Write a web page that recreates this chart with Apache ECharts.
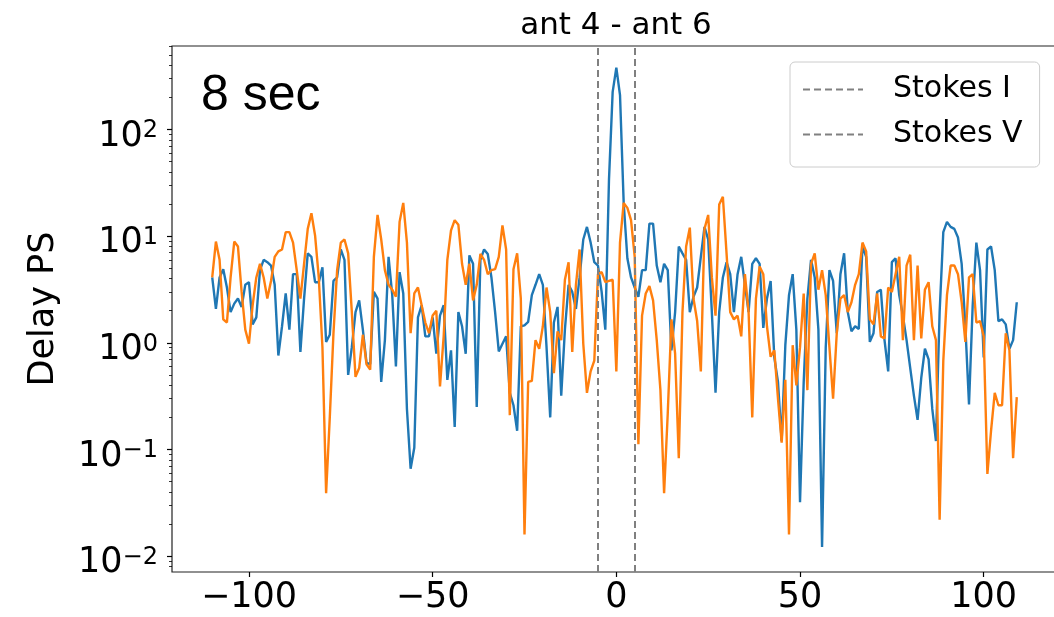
<!DOCTYPE html>
<html>
<head>
<meta charset="utf-8">
<script src="https://cdn.jsdelivr.net/npm/echarts@6/dist/echarts.min.js"></script>
<style>
html,body{margin:0;padding:0;background:#fff;}
#chart{width:1054px;height:617px;}
</style>
</head>
<body>
<div id="chart"></div>
<script>
// ---- data ----
const delays = [
 -110,-109,-108,-107,-106,-105,-104,-103,-102,-101,
 -100,-99,-98,-97,-96,-95,-94,-93,-92,-91,
 -90,-89,-88,-87,-86,-85,-84,-83,-82,-81,
 -80,-79,-78,-77,-76,-75,-74,-73,-72,-71,
 -70,-69,-68,-67,-66,-65,-64,-63,-62,-61,
 -60,-59,-58,-57,-56,-55,-54,-53,-52,-51,
 -50,-49,-48,-47,-46,-45,-44,-43,-42,-41,
 -40,-39,-38,-37,-36,-35,-34,-33,-32,-31,
 -30,-29,-28,-27,-26,-25,-24,-23,-22,-21,
 -20,-19,-18,-17,-16,-15,-14,-13,-12,-11,
 -10,-9,-8,-7,-6,-5,-4,-3,-2,-1,
 0,1,2,3,4,5,6,7,8,9,
 10,11,12,13,14,15,16,17,18,19,
 20,21,22,23,24,25,26,27,28,29,
 30,31,32,33,34,35,36,37,38,39,
 40,41,42,43,44,45,46,47,48,49,
 50,51,52,53,54,55,56,57,58,59,
 60,61,62,63,64,65,66,67,68,69,
 70,71,72,73,74,75,76,77,78,79,
 80,81,82,83,84,85,86,87,88,89,
 90,91,92,93,94,95,96,97,98,99,
 100,101,102,103,104,105,106,107,108,109
];

const blueValues = [
 4.1, 2.08, 4.1, 4.9, 3.3, 1.94, 2.33, 2.6, 2.17, 3.5,
 3.7, 1.49, 1.73, 4.8, 6.0, 5.7, 5.3, 3.5, 0.76, 1.43,
 2.9, 1.33, 4.4, 4.4, 0.82, 2.6, 6.9, 6.4, 3.7, 3.7,
 5.1, 1.02, 1.19, 3.8, 4.1, 7.5, 6.0, 0.5, 0.91, 1.94,
 2.5, 1.33, 0.65, 0.63, 3.0, 2.6, 0.43, 1.06, 6.4, 2.8,
 0.6, 4.6, 2.9, 0.24, 0.066, 0.104, 1.73, 2.25, 1.15, 1.15,
 1.73, 0.79, 1.8, 2.25, 0.45, 0.85, 0.163, 1.94, 1.43, 0.79,
 6.6, 5.5, 0.25, 6.0, 7.5, 6.8, 4.1, 1.94, 0.83, 0.98,
 1.15, 0.34, 0.26, 0.15, 1.43, 1.46, 1.57, 2.8, 3.5, 4.4,
 3.5, 0.91, 0.2, 1.55, 2.17, 0.32, 1.33, 3.5, 3.0, 2.08,
 4.1, 9.3, 12.2, 8.7, 5.7, 5.3, 3.0, 1.33, 34, 225,
 380, 210, 20.5, 6.2, 4.1, 3.3, 2.7, 4.8, 4.8, 13.1,
 13.1, 5.3, 3.7, 5.5, 4.8, 0.85, 1.94, 8.0, 6.9, 6.0,
 1.94, 2.7, 3.3, 6.4, 12.2, 9.3, 1.94, 0.34, 1.94, 4.1,
 5.7, 4.4, 1.94, 4.4, 6.4, 3.5, 1.94, 5.5, 6.2, 5.5,
 1.38, 2.6, 3.8, 0.73, 0.43, 0.12, 0.95, 2.8, 4.4, 1.33,
 0.032, 0.43, 2.6, 6.0, 4.1, 1.33, 0.0122, 0.91, 4.8, 3.8,
 1.23, 4.4, 6.9, 1.94, 1.28, 1.43, 1.35, 8.0, 6.4, 1.02,
 1.23, 3.0, 3.15, 1.06, 0.54, 5.7, 6.2, 2.8, 1.8, 1.06,
 0.58, 0.32, 0.19, 0.47, 0.88, 0.7, 0.24, 0.12, 1.94, 10.9,
 13.6, 12.2, 11.7, 9.7, 5.5, 1.43, 0.265, 2.25, 8.7, 4.8,
 0.73, 7.5, 8.0, 4.8, 1.6, 1.66, 1.49, 0.88, 1.06, 2.4
];

const orangeValues = [
 4.1, 8.9, 6.0, 1.66, 1.55, 4.1, 8.9, 8.0, 3.0, 1.33,
 0.98, 2.25, 4.1, 5.5, 4.1, 2.6, 3.8, 6.4, 7.2, 7.5,
 10.9, 10.9, 8.7, 4.8, 2.6, 5.5, 11.7, 16.4, 10.1, 4.1,
 0.91, 0.039, 0.2, 1.23, 4.8, 8.7, 9.3, 6.9, 1.94, 0.48,
 0.58, 1.19, 0.63, 0.56, 6.4, 15.8, 9.3, 4.8, 3.5, 3.15,
 2.7, 13.6, 20.5, 8.7, 1.23, 2.9, 3.3, 2.25, 1.55, 1.23,
 1.8, 2.0, 0.39, 1.15, 6.0, 11.3, 14.1, 12.8, 5.5, 3.5,
 5.5, 2.5, 3.5, 6.8, 6.0, 4.4, 4.8, 4.9, 6.4, 12.6,
 7.5, 0.21, 4.9, 6.9, 2.6, 0.016, 0.43, 0.44, 1.06, 0.88,
 1.43, 3.3, 1.94, 0.52, 1.28, 1.06, 3.9, 5.7, 0.82, 3.5,
 7.5, 0.98, 0.34, 0.54, 0.68, 4.4, 4.6, 3.7, 3.8, 3.9,
 0.54, 8.7, 20.5, 18.4, 14.1, 6.4, 0.112, 1.8, 2.9, 3.4,
 2.5, 1.06, 0.36, 0.039, 0.22, 1.66, 0.79, 0.083, 1.94, 8,
 12, 2.6, 1.6, 0.54, 11.7, 15.8, 4.1, 1.8, 19.8, 23.4,
 6.9, 1.94, 1.66, 1.8, 1.15, 4.4, 1.94, 0.2, 2.6, 5.2,
 4.4, 1.43, 0.74, 0.85, 0.3, 0.116, 0.45, 0.016, 0.95, 0.4,
 0.91, 2.9, 0.36, 5.5, 6.9, 3.15, 4.8, 2.8, 0.91, 0.3,
 1.23, 2.6, 2.8, 1.94, 2.4, 3.5, 4.4, 8.7, 7.2, 1.66,
 1.49, 2.9, 1.15, 1.1, 3.3, 3.0, 4.4, 6.4, 1.06, 5.3,
 6.7, 1.06, 5.3, 1.1, 3.15, 3.7, 1.43, 1.06, 0.022, 0.68,
 2.8, 5.3, 5.3, 4.4, 2.4, 1.02, 4.1, 4.4, 1.55, 1.6,
 1.15, 0.059, 0.15, 0.34, 0.26, 0.26, 1.23, 0.85, 0.083, 0.31
];

const xTickValues = [-100, -50, 0, 50, 100];
const yMajorTicks = [0.01, 0.1, 1, 10, 100];
const yMinorTicks = [0.008, 0.009,
  0.02, 0.03, 0.04, 0.05, 0.06, 0.07, 0.08, 0.09,
  0.2, 0.3, 0.4, 0.5, 0.6, 0.7, 0.8, 0.9,
  2, 3, 4, 5, 6, 7, 8, 9,
  20, 30, 40, 50, 60, 70, 80, 90,
  200, 300, 400, 500, 600];
const windowEdges = [-5, 5];
const legendNames = ['Stokes I', 'Stokes V'];
const titleText = 'ant 4 - ant 6';
const yAxisTitle = 'Delay PS';
const cornerNote = '8 sec';

// ---- axis ranges ----
const xMin = -120.95, xMax = 119.95;
const yMin = Math.pow(10, -2.148), yMax = Math.pow(10, 2.782);

const FONT = 'DejaVu Sans';
const chart = echarts.init(document.getElementById('chart'), null, {renderer: 'canvas'});

function pairs(vals) { return delays.map((d, i) => [d, vals[i]]); }

function supLabel(v) {
  const e = Math.round(Math.log10(v));
  const s = e < 0 ? '\u2212' + (-e) : String(e);
  return '{b|10}{s|' + s + '}';
}

const dashStyle = {color: '#808080', width: 2, type: [7, 4]};

const option = {
  backgroundColor: '#ffffff',
  animation: false,
  title: {
    text: titleText, left: 616, top: 10, textAlign: 'center', padding: 0,
    textStyle: {fontFamily: FONT, fontSize: 31, fontWeight: 'normal', color: '#000'}
  },
  grid: {
    left: 172, right: -3, top: 46, bottom: 45,
    show: true, borderColor: '#222', borderWidth: 1.2, backgroundColor: 'transparent',
    containLabel: false, outerBoundsMode: 'none'
  },
  legend: {
    show: true, data: legendNames, orient: 'vertical',
    left: 790, top: 62,
    padding: [10, 17, 15, 12], itemGap: 10,
    itemWidth: 60, itemHeight: 14,
    backgroundColor: 'rgba(255,255,255,0.8)', borderColor: '#cccccc', borderWidth: 1, borderRadius: 5,
    selectedMode: false,
    itemStyle: {opacity: 0},
    formatter: n => '{g| }' + n,
    textStyle: {fontFamily: FONT, fontSize: 30, color: '#000', lineHeight: 35,
      rich: {g: {width: 25, fontSize: 30, fontFamily: FONT}}}
  },
  xAxis: {
    type: 'value', min: xMin, max: xMax, position: 'bottom',
    axisLine: {show: false, onZero: false}, splitLine: {show: false},
    axisTick: {show: true, customValues: xTickValues, length: 5, lineStyle: {color: '#000', width: 1.2}},
    axisLabel: {
      customValues: xTickValues, margin: 8, color: '#000', fontFamily: FONT, fontSize: 35,
      formatter: v => String(v).replace('-', '\u2212')
    }
  },
  yAxis: [{
    type: 'log', logBase: 10, min: yMin, max: yMax, position: 'left',
    axisLine: {show: false, onZero: false}, splitLine: {show: false},
    axisTick: {show: true, customValues: yMajorTicks, length: 5, lineStyle: {color: '#000', width: 1.2}},
    axisLabel: {
      customValues: yMajorTicks, margin: 14, formatter: supLabel,
      padding: [14, 0, 0, 0],
      rich: {
        b: {fontFamily: FONT, fontSize: 35, color: '#000'},
        s: {fontFamily: FONT, fontSize: 24, color: '#000', verticalAlign: 'top'}
      }
    }
  }, {
    type: 'log', logBase: 10, min: yMin, max: yMax, position: 'left',
    axisLine: {show: false, onZero: false}, splitLine: {show: false},
    axisLabel: {show: false},
    axisTick: {show: true, customValues: yMinorTicks, length: 3, lineStyle: {color: '#000', width: 0.8}}
  }],
  graphic: [
    {type: 'text', left: 201, top: 71, silent: true,
     style: {text: cornerNote, font: '50px "Liberation Sans"', fill: '#000'}},
    {type: 'text', x: 44, y: 309, rotation: Math.PI / 2, silent: true,
     style: {text: yAxisTitle, font: '35px "DejaVu Sans"', fill: '#000', align: 'center', verticalAlign: 'middle'}}
  ],
  series: [
    {name: 'Stokes I PS', type: 'line', data: pairs(blueValues), symbol: 'none', showSymbol: false,
     lineStyle: {color: '#1f77b4', width: 2.4}, itemStyle: {color: '#1f77b4'}, silent: true, z: 2},
    {name: 'Stokes V PS', type: 'line', data: pairs(orangeValues), symbol: 'none', showSymbol: false,
     lineStyle: {color: '#ff7f0e', width: 2.4}, itemStyle: {color: '#ff7f0e'}, silent: true, z: 3},
    {name: legendNames[0], type: 'line', data: [], symbol: 'none',
     lineStyle: dashStyle, itemStyle: {color: '#808080'}, z: 5,
     markLine: {silent: true, symbol: ['none', 'none'], label: {show: false},
       lineStyle: dashStyle, emphasis: {disabled: true}, data: [{xAxis: windowEdges[0]}]}},
    {name: legendNames[1], type: 'line', data: [], symbol: 'none',
     lineStyle: dashStyle, itemStyle: {color: '#808080'}, z: 5,
     markLine: {silent: true, symbol: ['none', 'none'], label: {show: false},
       lineStyle: dashStyle, emphasis: {disabled: true}, data: [{xAxis: windowEdges[1]}]}}
  ]
};
chart.setOption(option);
</script>
</body>
</html>
